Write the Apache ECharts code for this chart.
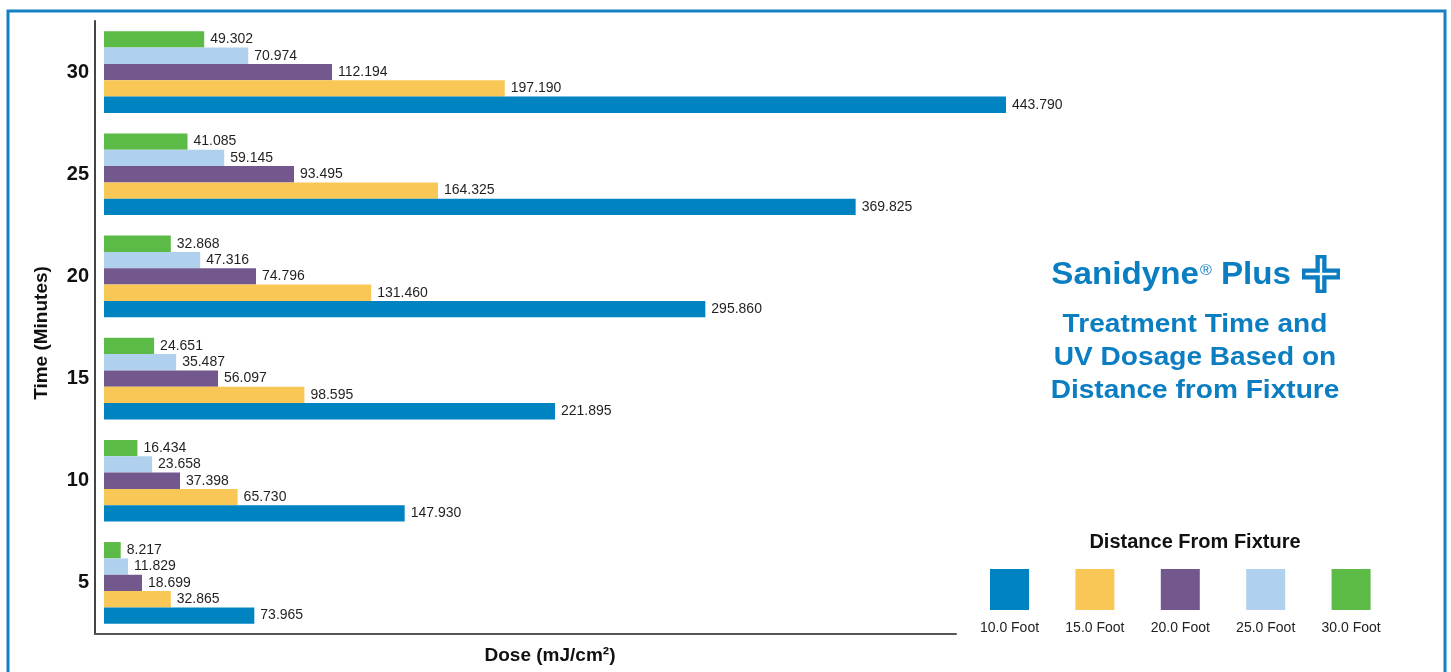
<!DOCTYPE html>
<html>
<head>
<meta charset="utf-8">
<style>
  html, body { margin: 0; padding: 0; background: #ffffff; }
  #chart { width: 1451px; height: 672px; }
</style>
<script src="https://cdn.jsdelivr.net/npm/echarts@6/dist/echarts.min.js"></script>
</head>
<body>
<div id="chart"></div>
<script>
// ---- data ----
const categories = ['5', '10', '15', '20', '25', '30'];
const seriesNames = ['10.0 Foot', '15.0 Foot', '20.0 Foot', '25.0 Foot', '30.0 Foot'];
const foot10 = [73.965, 147.930, 221.895, 295.860, 369.825, 443.790];
const foot15 = [32.865, 65.730, 98.595, 131.460, 164.325, 197.190];
const foot20 = [18.699, 37.398, 56.097, 74.796, 93.495, 112.194];
const foot25 = [11.829, 23.658, 35.487, 47.316, 59.145, 70.974];
const foot30 = [8.217, 16.434, 24.651, 32.868, 41.085, 49.302];
const seriesValues = [foot10, foot15, foot20, foot25, foot30];

// ---- styles ----
const colors = ['#0083c1', '#f9c755', '#73588e', '#b0d1ee', '#5cba47'];
const FONT = "'Liberation Sans', Arial, Helvetica, sans-serif";
const TITLE_BLUE = '#0b7dc1';

const chart = echarts.init(document.getElementById('chart'), null, { renderer: 'canvas' });

// first series is drawn on top of each group in a horizontal bar chart,
// so add the series from 30 ft down to 10 ft
const series = [];
for (let i = seriesNames.length - 1; i >= 0; i--) {
  series.push({
    name: seriesNames[i],
    type: 'bar',
    data: seriesValues[i],
    barGap: '0%',
    barCategoryGap: '20%',
    clip: false,
    itemStyle: { color: colors[i] },
    label: {
      show: true,
      position: 'right',
      distance: 6,
      fontFamily: FONT,
      fontSize: 14,
      color: '#231f20',
      formatter: p => Number(p.value).toFixed(3)
    }
  });
}

const legends = seriesNames.map((n, i) => ({
  data: [n],
  left: 990 + i * 85.4,
  top: 569,
  itemWidth: 39,
  itemHeight: 41,
  itemGap: 0,
  padding: 0,
  icon: 'rect',
  formatter: () => ''
}));

const legendLabels = seriesNames.map((n, i) => ({
  type: 'text',
  x: 990 + 19.5 + i * 85.4,
  y: 628,
  style: {
    text: n,
    fontFamily: FONT,
    fontSize: 14,
    fill: '#222222',
    align: 'center',
    verticalAlign: 'middle'
  }
}));

// cross icon
function crossPoints(cx, cy, half, arm) {
  const a = arm / 2;
  return [
    [cx - a, cy - half], [cx + a, cy - half], [cx + a, cy - a], [cx + half, cy - a],
    [cx + half, cy + a], [cx + a, cy + a], [cx + a, cy + half], [cx - a, cy + half],
    [cx - a, cy + a], [cx - half, cy + a], [cx - half, cy - a], [cx - a, cy - a]
  ];
}

const option = {
  animation: false,
  backgroundColor: '#ffffff',
  grid: { left: 95, right: 495, top: 21, bottom: 38, containLabel: false },
  xAxis: {
    type: 'value',
    min: -4.43,
    max: 419.2,
    name: 'Dose (mJ/cm²)',
    nameLocation: 'middle',
    nameGap: 12,
    nameTextStyle: {
      fontFamily: FONT, fontSize: 19, fontWeight: 'bold', color: '#111111',
      padding: [0, 0, 0, 49]
    },
    axisLine: { show: true, onZero: false, lineStyle: { color: '#555555', width: 2 } },
    axisTick: { show: false },
    axisLabel: { show: false },
    splitLine: { show: false }
  },
  yAxis: {
    type: 'category',
    data: categories,
    name: 'Time (Minutes)',
    nameLocation: 'middle',
    nameGap: 44,
    nameRotate: 90,
    nameTextStyle: {
      fontFamily: FONT, fontSize: 19, fontWeight: 'bold', color: '#111111',
      padding: [0, 11, 0, 0]
    },
    axisLine: { show: true, onZero: false, lineStyle: { color: '#444444', width: 2 } },
    axisTick: { show: false },
    axisLabel: {
      margin: 6,
      fontFamily: FONT, fontSize: 20, fontWeight: 'bold', color: '#111111'
    },
    splitLine: { show: false }
  },
  legend: legends,
  series: series,
  graphic: [
    {
      type: 'rect',
      shape: { x: 8, y: 11, width: 1437, height: 720 },
      style: { fill: 'none', stroke: '#1580c4', lineWidth: 3 },
      silent: true
    },
    {
      type: 'text',
      x: 1291,
      y: 275,
      scaleX: 1.07,
      style: {
        text: '{a|Sanidyne}{b|®}{a| Plus}',
        align: 'right',
        verticalAlign: 'middle',
        rich: {
          a: { fontFamily: FONT, fontSize: 31, fontWeight: 'bold', fill: TITLE_BLUE, lineHeight: 36 },
          b: { fontFamily: FONT, fontSize: 15, fontWeight: 'normal', fill: TITLE_BLUE,
               verticalAlign: 'top', lineHeight: 15, padding: [6, 0, 0, 1] }
        }
      }
    },
    {
      type: 'polygon',
      shape: { points: crossPoints(1321, 274, 19, 11) },
      style: { fill: TITLE_BLUE }
    },
    {
      type: 'polygon',
      shape: { points: crossPoints(1321, 274, 15.5, 2.4) },
      style: { fill: '#ffffff' }
    },
    {
      type: 'text',
      x: 1195,
      y: 358,
      scaleX: 1.08,
      style: {
        text: 'Treatment Time and\nUV Dosage Based on\nDistance from Fixture',
        fontFamily: FONT,
        fontSize: 26,
        fontWeight: 'bold',
        lineHeight: 33,
        fill: TITLE_BLUE,
        align: 'center',
        verticalAlign: 'middle'
      }
    },
    {
      type: 'text',
      x: 1195,
      y: 542,
      style: {
        text: 'Distance From Fixture',
        fontFamily: FONT,
        fontSize: 20,
        fontWeight: 'bold',
        fill: '#111111',
        align: 'center',
        verticalAlign: 'middle'
      }
    }
  ].concat(legendLabels)
};

chart.setOption(option);
</script>
</body>
</html>
